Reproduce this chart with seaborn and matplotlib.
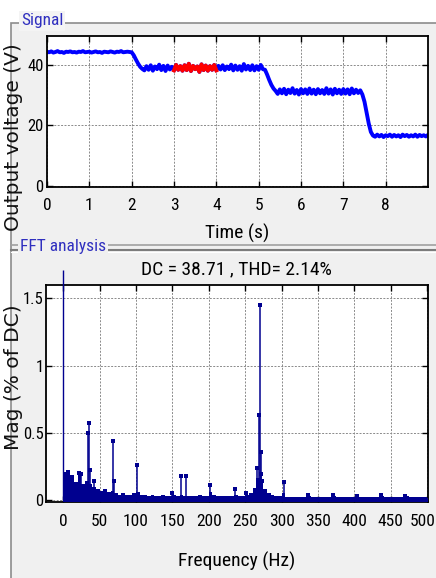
import numpy as np
import pandas as pd
import matplotlib
matplotlib.use("Agg")
import matplotlib.pyplot as plt
from matplotlib.patches import Rectangle
from matplotlib.lines import Line2D
from matplotlib.transforms import ScaledTranslation
import seaborn as sns

# ---------------- data ----------------
sample_step_s = 0.05
voltage = [
    # 0.00 - 1.95 s
    44.4, 44.2, 44.5, 44.1, 44.3, 44.6, 44.2, 44.3, 44.0, 44.4,
    44.3, 44.5, 44.2, 44.3, 44.1, 44.4, 44.3, 44.6, 44.2, 44.3,
    44.4, 44.1, 44.3, 44.5, 44.2, 44.3, 44.0, 44.4, 44.3, 44.2,
    44.5, 44.3, 44.1, 44.4, 44.3, 44.6, 44.2, 44.3, 44.4, 44.3,
    # 2.00 - 2.25 s
    44.2, 43.2, 41.8, 40.5, 39.4, 38.7,
    # 2.30 - 5.10 s
    38.2, 39.6, 38.4, 39.9, 38.1, 39.5, 38.6, 40.1, 38.3, 39.7,
    38.0, 39.8, 38.5, 39.4, 38.2, 40.0, 38.4, 39.6, 38.1, 39.9,
    38.3, 40.4, 38.0, 39.7, 38.6, 39.5, 37.7, 40.2, 38.3, 39.8,
    38.1, 39.6, 38.4, 40.0, 38.2, 39.7, 38.5, 39.9, 38.3, 39.5,
    38.6, 40.1, 38.2, 39.8, 38.4, 39.6, 38.1, 40.3, 38.5, 39.7,
    38.3, 39.9, 38.2, 39.6, 38.4, 40.0, 38.6,
    # 5.15 - 5.40 s
    38.4, 36.8, 35.0, 33.4, 32.2, 31.4,
    # 5.45 - 7.40 s
    30.4, 31.9, 30.6, 32.1, 30.3, 31.8, 30.7, 32.3, 30.5, 31.7,
    30.2, 32.0, 30.6, 31.9, 30.4, 32.2, 30.5, 31.8, 30.3, 32.0,
    30.6, 31.7, 30.4, 32.3, 30.5, 31.9, 30.2, 32.1, 30.6, 31.8,
    30.4, 32.0, 30.5, 31.9, 30.3, 32.2, 30.6, 31.8, 30.7, 31.6,
    # 7.45 - 7.70 s
    30.2, 27.8, 24.2, 20.6, 17.8, 16.6,
    # 7.75 - 9.00 s
    16.2, 16.9, 16.3, 16.8, 16.1, 16.7, 16.4, 16.9, 16.2, 16.8,
    16.3, 16.7, 16.1, 16.9, 16.4, 16.8, 16.2, 16.7, 16.3, 16.9,
    16.2, 16.8, 16.4, 16.7, 16.3, 16.8,
]
fft_window_s = (3.0, 4.0)

time_ticks = [0, 1, 2, 3, 4, 5, 6, 7, 8]
volt_ticks = [0, 20, 40]

dc_value = 38.71
thd_value = 2.14
dc_bar_height = 1.71          # DC component, drawn beyond the axes top

bg_bin_hz = 5
bg_mag = [
    0.19, 0.21, 0.16, 0.13, 0.19, 0.12, 0.14, 0.12, 0.10, 0.08,
    0.07, 0.08, 0.06, 0.07, 0.05, 0.04, 0.05, 0.04, 0.04, 0.05,
    0.06, 0.04, 0.04, 0.03, 0.04, 0.03, 0.03, 0.04, 0.03, 0.03,
    0.04, 0.03, 0.04, 0.03, 0.03, 0.03, 0.03, 0.04, 0.03, 0.03,
    0.06, 0.04, 0.03, 0.03, 0.03, 0.03, 0.03, 0.04, 0.03, 0.03,
    0.04, 0.05, 0.09, 0.16, 0.13, 0.08, 0.05, 0.04, 0.03, 0.03,
    0.05, 0.02, 0.02, 0.02, 0.02, 0.02, 0.02, 0.03, 0.02, 0.02,
    0.02, 0.02, 0.02, 0.02, 0.03, 0.02, 0.02, 0.02, 0.02, 0.02,
    0.02, 0.02, 0.02, 0.02, 0.02, 0.02, 0.02, 0.03, 0.02, 0.02,
    0.02, 0.02, 0.02, 0.02, 0.03, 0.02, 0.02, 0.02, 0.02, 0.02,
    0.02,
]
peak_freq = [3, 7, 12, 22, 24, 33.5, 35, 36.5, 43, 68, 70, 102, 150, 162, 169,
             202, 236.5, 251, 266, 269, 270, 271, 272, 273, 303,
             336, 370, 403, 437, 470]
peak_mag = [0.19, 0.21, 0.17, 0.20, 0.19, 0.50, 0.57, 0.22, 0.14, 0.44, 0.14,
            0.26, 0.05, 0.18, 0.18, 0.11, 0.08, 0.05, 0.24, 0.63, 1.45, 0.36,
            0.19, 0.14, 0.13, 0.04, 0.04, 0.03, 0.04, 0.03]

freq_ticks = [0, 50, 100, 150, 200, 250, 300, 350, 400, 450, 500]
mag_ticks = [0, 0.5, 1, 1.5]
mag_tick_labels = ["0", "0.5", "1", "1.5"]

# ---------------- style ----------------
W, H = 436, 578
NARROW = ['Roboto Condensed', 'Liberation Sans Narrow', 'Liberation Sans']
plt.rcParams['font.family'] = NARROW
plt.rcParams['axes.linewidth'] = 1.3

def fx(px):
    return px / W

def fy(py):
    return 1 - py / H

BLUE = '#0000ff'
RED = '#ff0000'
NAVY = '#00008f'
LABEL_BLUE = '#2f2fbf'
GRID = '#8a8a8a'

fig = plt.figure(figsize=(W / 100, H / 100), dpi=100, facecolor='white')

# panel background + frames (below the axes)
fig.patches.append(Rectangle((fx(11), -0.01), 1.0, fy(23) + 0.01,
                             transform=fig.transFigure, facecolor='#f0f0f0',
                             edgecolor='#8c8c8c', lw=1.2, zorder=-10))
for yy, col, lw in ((244.5, '#a0a0a0', 1.2), (249.5, '#7c7c7c', 1.5),
                    (251.5, '#ffffff', 0.8)):
    fig.add_artist(Line2D([fx(11), 1.0], [fy(yy)] * 2, color=col, lw=lw,
                          zorder=-9))

# ---------------- top: signal ----------------
t = np.round(np.arange(len(voltage)) * sample_step_s, 2)
sig = pd.DataFrame({'time': t, 'volt': voltage})
win = sig[(sig['time'] >= fft_window_s[0]) & (sig['time'] <= fft_window_s[1])]

ax1 = fig.add_axes([fx(47), fy(187), fx(428) - fx(47), fy(36) - fy(187)])
ax1.set_zorder(2)
ax1.set_facecolor('white')
sns.lineplot(data=sig, x='time', y='volt', ax=ax1, color=BLUE, lw=2.8,
             estimator=None, sort=False)
sns.lineplot(data=win, x='time', y='volt', ax=ax1, color=RED, lw=2.8,
             estimator=None, sort=False)
ax1.set_xlim(0, 9)
ax1.set_ylim(-0.46, 49.6)
ax1.set_xticks(time_ticks)
ax1.set_xticklabels([str(v) for v in time_ticks])
ax1.set_yticks(volt_ticks)
ax1.set_yticklabels([str(v) for v in volt_ticks])
ax1.set_xlabel('Time (s)', fontsize=14)
ax1.xaxis.set_label_coords(0.5, (187 - 233) / 151)
ax1.xaxis.label.set_va('center')
ax1.set_ylabel('')

# ---------------- bottom: FFT ----------------
bg_freq = np.arange(len(bg_mag)) * bg_bin_hz
ax2 = fig.add_axes([fx(45.7), fy(501.7), fx(428) - fx(45.7), fy(285) - fy(501.7)])
ax2.set_zorder(2)
ax2.set_facecolor('white')
ax2.bar(bg_freq, bg_mag, width=bg_bin_hz, align='edge', color=NAVY,
        edgecolor='none', linewidth=0, zorder=2)
ax2.vlines(peak_freq, 0, peak_mag, color=NAVY, lw=1.1, zorder=3)
sns.scatterplot(x=peak_freq, y=peak_mag, ax=ax2, color=NAVY, marker='s',
                s=7, linewidth=0, zorder=4)
ax2.vlines([0], 0, [dc_bar_height], color=NAVY, lw=1.0, zorder=4, clip_on=False)
ax2.hlines(0, 0, 501, color=NAVY, lw=3, zorder=3)
ax2.set_xlim(-24, 501)
ax2.set_ylim(-0.013, 1.6)
ax2.set_xticks(freq_ticks)
ax2.set_xticklabels([str(v) for v in freq_ticks])
ax2.set_yticks(mag_ticks)
ax2.set_yticklabels(mag_tick_labels)
ax2.set_xlabel('Frequency (Hz)', fontsize=14)
ax2.xaxis.set_label_coords(0.5, (501.7 - 561) / 216.7)
ax2.xaxis.label.set_va('center')
ax2.set_ylabel('')
ax2.set_title(f'DC = {dc_value:.2f} , THD= {thd_value:.2f}%', fontsize=14,
              y=(501.7 - 269.5) / 216.7, pad=0, va='center')

for ax, xpad, ypad in ((ax1, 8, 2.5), (ax2, 9, 1.5)):
    ax.set_axisbelow(True)
    ax.grid(True, color=GRID, ls=(0, (2, 1.5)), lw=0.7)
    ax.tick_params(axis='both', which='both', direction='in', top=True,
                   right=True, length=4, width=1, color='black')
    ax.tick_params(axis='x', pad=xpad, labelsize=12.5)
    ax.tick_params(axis='y', pad=ypad, labelsize=12)
    for s in ax.spines.values():
        s.set_color('black')
        s.set_visible(True)

# keep the last frequency label inside the figure (right-aligned at the edge)
last_lbl = ax2.xaxis.get_major_ticks()[-1].label1
last_lbl.set_ha('right')
last_lbl.set_transform(last_lbl.get_transform()
                       + ScaledTranslation(8.5 / 100, 0, fig.dpi_scale_trans))

# rotated y labels (figure level, to match placement)
fig.text(fx(13.5), fy(231), 'Output voltage (V)', rotation=90, ha='center',
         va='bottom', fontsize=14.5, family=['DejaVu Sans'], color='#111111')
fig.text(fx(13.5), fy(377.5), 'Mag (% of DC)', rotation=90, ha='center',
         va='center', fontsize=14.5, family=['DejaVu Sans'], color='#111111')

# panel titles
fig.text(fx(21), fy(21), 'Signal', ha='left', va='center', fontsize=12.5,
         color=LABEL_BLUE,
         bbox=dict(facecolor='#f4f4f4', edgecolor='none', pad=1.5))
fig.text(fx(20), fy(247), 'FFT analysis', ha='left', va='center', fontsize=12.5,
         color=LABEL_BLUE,
         bbox=dict(facecolor='#f0f0f0', edgecolor='none', pad=1.5))

fig.savefig('out.png', dpi=100, facecolor='white')
